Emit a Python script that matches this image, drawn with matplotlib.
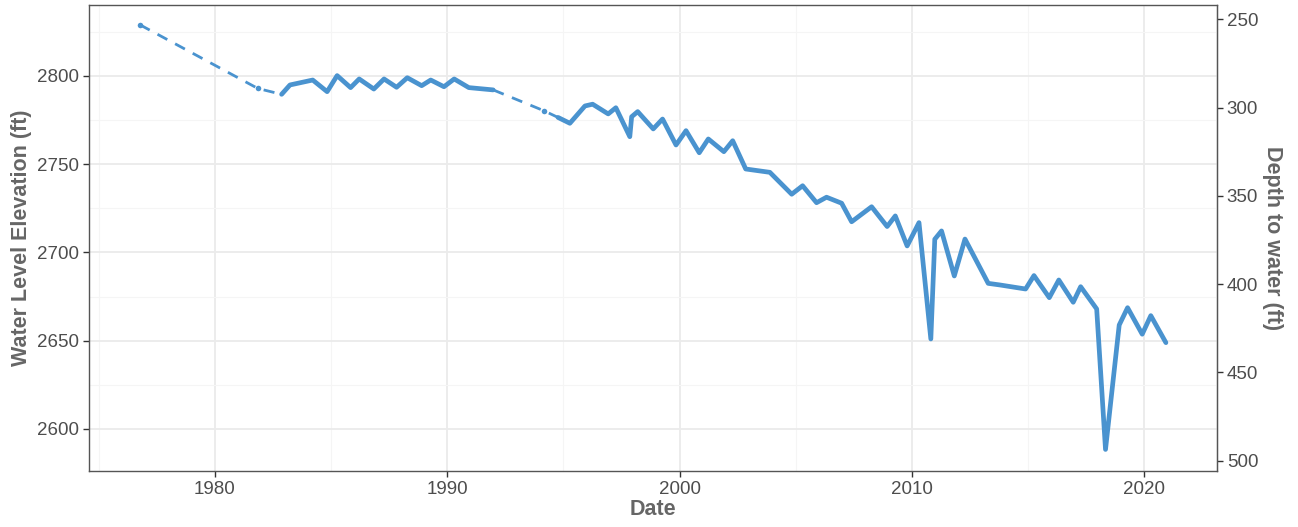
import matplotlib
matplotlib.use("Agg")
import matplotlib.pyplot as plt
import numpy as np

plt.rcParams['font.family'] = ['Liberation Sans', 'DejaVu Sans']

# Decimal years and water level elevation (ft)
years = [1976.77, 1981.85, 1982.87, 1983.23, 1984.21, 1984.83, 1985.26, 1985.84, 1986.21,
         1986.84, 1987.28, 1987.82, 1988.28, 1988.90, 1989.29, 1989.86, 1990.30, 1990.93,
         1991.98, 1994.18, 1994.77, 1995.28, 1995.93, 1996.26, 1996.93, 1997.26, 1997.86,
         1997.94, 1998.20, 1998.87, 1999.27, 1999.85, 2000.28, 2000.85, 2001.24, 2001.91,
         2002.29, 2002.85, 2003.89, 2004.83, 2005.30, 2005.90, 2006.33, 2006.98, 2007.41,
         2008.27, 2008.94, 2009.29, 2009.80, 2010.31, 2010.82, 2010.99, 2011.28, 2011.83,
         2012.29, 2013.29, 2013.79, 2014.90, 2015.26, 2015.92, 2016.33, 2016.95, 2017.27,
         2017.96, 2018.34, 2018.93, 2019.29, 2019.92, 2020.29, 2020.94]
elevation = [2829.0, 2792.9, 2789.6, 2794.9, 2797.7, 2791.1, 2800.2, 2793.4, 2798.3,
             2792.6, 2798.3, 2793.6, 2799.0, 2794.5, 2797.7, 2793.9, 2798.3, 2793.4,
             2792.1, 2780.2, 2776.5, 2773.2, 2783.0, 2784.0, 2778.5, 2782.0, 2765.6,
             2776.9, 2779.8, 2770.0, 2775.6, 2760.9, 2769.0, 2756.5, 2764.3, 2757.1,
             2763.3, 2747.3, 2745.4, 2733.0, 2737.8, 2728.2, 2731.3, 2727.9, 2717.4,
             2725.9, 2714.7, 2720.7, 2703.7, 2716.9, 2651.0, 2707.5, 2712.2, 2686.7,
             2707.6, 2682.5, 2681.6, 2679.3, 2686.9, 2674.4, 2684.4, 2671.8, 2680.6,
             2668.0, 2588.4, 2658.9, 2668.7, 2653.7, 2664.2, 2648.9]
# Continuous (solid) record segments: index ranges [start, end]
solid_segments = [(2, 18), (20, 69)]
# Isolated measurement points (drawn as dots)
isolated_idx = [0, 1, 19]

land_surface = 3082.0  # elevation minus depth
x_ticks = [1980, 1990, 2000, 2010, 2020]
y_ticks = [2600, 2650, 2700, 2750, 2800]
depth_ticks = [250, 300, 350, 400, 450, 500]

color = '#4A93CF'
gray_text = '#4D4D4D'
title_gray = '#666666'

fig = plt.figure(figsize=(12.98, 5.27), dpi=100)
ax = fig.add_axes([0.0686, 0.1063, 0.8690, 0.8842])

yrs = np.array(years)
elev = np.array(elevation)

ax.plot(yrs, elev, color=color, lw=2.0, linestyle=(0, (4, 3.2)), zorder=3)
for s, e in solid_segments:
    ax.plot(yrs[s:e + 1], elev[s:e + 1], color=color, lw=3.4, solid_joinstyle='round',
            solid_capstyle='round', zorder=4)
ax.scatter(yrs[isolated_idx], elev[isolated_idx], s=16, color=color, zorder=5, linewidths=0)

ax.set_xlim(1974.58, 2023.14)
ax.set_ylim(2576.2, 2840.2)

ax.set_xticks(x_ticks)
ax.set_xticks([1975, 1985, 1995, 2005, 2015], minor=True)
ax.set_yticks(y_ticks)
ax.set_yticks([2625, 2675, 2725, 2775, 2825], minor=True)
ax.grid(True, which='major', color='#EBEBEB', lw=1.3, zorder=0)
ax.grid(True, which='minor', color='#F5F5F5', lw=0.8, zorder=0)
ax.set_axisbelow(True)

ax.tick_params(axis='both', which='major', labelsize=13.5, colors='#333333', labelcolor=gray_text,
               length=4, width=1, pad=3)
ax.tick_params(axis='both', which='minor', length=0)
for sp in ax.spines.values():
    sp.set_color('#555555')
    sp.set_linewidth(1.0)

ax.set_xlabel('Date', fontsize=15.5, fontweight='bold', color=title_gray, labelpad=1)
ax.set_ylabel('Water Level Elevation (ft)', fontsize=15.5, fontweight='bold', color=title_gray, labelpad=4)

sec = ax.secondary_yaxis('right', functions=(lambda e: land_surface - e, lambda d: land_surface - d))
sec.set_yticks(depth_ticks)
sec.tick_params(axis='y', labelsize=13.5, colors='#333333', labelcolor=gray_text, length=4, width=1, pad=3)
sec.spines['right'].set_color('#555555')
sec.set_ylabel('Depth to water (ft)', fontsize=15.5, fontweight='bold', color=title_gray,
               rotation=270, labelpad=18)

fig.savefig('out.png', dpi=100)
